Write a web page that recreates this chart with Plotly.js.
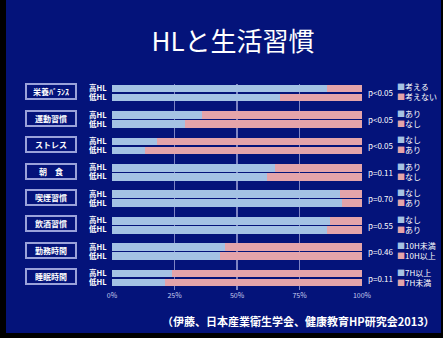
<!DOCTYPE html>
<html><head><meta charset="utf-8">
<script src="https://cdn.plot.ly/plotly-3.0.1.min.js"></script>
<style>
html,body{margin:0;padding:0;background:#000;width:443px;height:338px;overflow:hidden}
#chart{position:absolute;left:6px;top:0;width:435px;height:333px}
</style></head><body>
<div id="chart"></div>
<script>
const categories = ['栄養ﾊﾞﾗﾝｽ','運動習慣','ストレス','朝　食','喫煙習慣','飲酒習慣','勤務時間','睡眠時間'];
const groupLabels = ['高HL','低HL'];
const highFirst = [86,36,18,65,91,87,45,24];
const highSecond = [14,64,82,35,9,13,55,76];
const lowFirst = [67,29,13,62,92,86,43,21];
const lowSecond = [33,71,87,38,8,14,57,79];
const pValues = ['p<0.05','p<0.05','p<0.05','p=0.11','p=0.70','p=0.55','p=0.46','p=0.11'];
const answer1 = ['考える','あり','なし','あり','なし','なし','10H未満','7H以上'];
const answer2 = ['考えない','なし','あり','なし','あり','あり','10H以上','7H未満'];
const xTicks = [0,25,50,75,100];

const BLUE = '#a4c2e4', PINK = '#e4a4aa', NAVY = '#04137a', GRID = '#7d84c4';
const off = 0.17;
const yHigh = categories.map((c,i)=>i-off);
const yLow = categories.map((c,i)=>i+off);
const yAll = [], tickText = [];
categories.forEach((c,i)=>{yAll.push(i-off, i+off); tickText.push('<b>'+groupLabels[0]+'</b>','<b>'+groupLabels[1]+'</b>');});

const ys = yHigh.concat(yLow);
const traces = [
  {type:'bar', orientation:'h', y: ys, x: highFirst.concat(lowFirst), marker:{color:BLUE}, width:0.29, hoverinfo:'skip'},
  {type:'bar', orientation:'h', y: ys, x: highSecond.concat(lowSecond), marker:{color:PINK}, width:0.29, hoverinfo:'skip'}
];

const ann = [];
const F = '"Noto Sans CJK JP", "Noto Sans", sans-serif';
categories.forEach((c,i)=>{
  ann.push({xref:'paper', yref:'y', x:-0.244, xanchor:'center', yanchor:'middle', y:i-0.05, text:'<b>'+c+'</b>', showarrow:false,
    font:{family:F, size:8, color:'#ffffff'}, bordercolor:'#9aa2da', borderwidth:2, borderpad:1, width:46, height:11, align:'center'});
  ann.push({xref:'paper', yref:'y', x:1.015, y:i, text:pValues[i], showarrow:false, xanchor:'left',
    font:{family:F, size:8, color:'#ffffff'}});
  ann.push({xref:'paper', yref:'y', x:1.133, y:i-0.04, xanchor:'left', align:'left', showarrow:false,
    text:'<span style="color:'+BLUE+'">■</span>'+answer1[i]+'<br><span style="color:'+PINK+'">■</span>'+answer2[i],
    font:{family:F, size:8, color:'#ffffff'}});
});
ann.push({xref:'paper', yref:'paper', x:1.3, y:-0.15, xanchor:'right', yanchor:'middle', showarrow:false,
  text:'<b>（伊藤、日本産業衛生学会、健康教育HP研究会2013）</b>', font:{family:F, size:11, color:'#ffffff'}});

const layout = {
  width:435, height:333,
  paper_bgcolor:NAVY, plot_bgcolor:NAVY,
  margin:{l:106, r:79, t:84, b:43},
  barmode:'stack', showlegend:false,
  title:{text:'HLと生活習慣', font:{family:F, size:26, color:'#ffffff'}, xref:'container', x:0.522, xanchor:'center', y:0.874, yanchor:'middle'},
  xaxis:{range:[0,100], tickvals:xTicks, ticktext:xTicks.map(v=>v+'%'), showgrid:true, gridcolor:GRID, gridwidth:1.5,
    zeroline:false, showline:false, ticks:'', tickfont:{family:F, size:7, color:'#c8cdf0'}, fixedrange:true},
  yaxis:{range:[7.45,-0.34], tickvals:yAll, ticktext:tickText, showgrid:false, zeroline:false, ticks:'outside', ticklen:3, tickcolor:NAVY,
    tickfont:{family:F, size:7.5, color:'#ffffff'}, fixedrange:true},
  annotations:ann
};
Plotly.newPlot('chart', traces, layout, {displayModeBar:false, staticPlot:true});
</script></body></html>
